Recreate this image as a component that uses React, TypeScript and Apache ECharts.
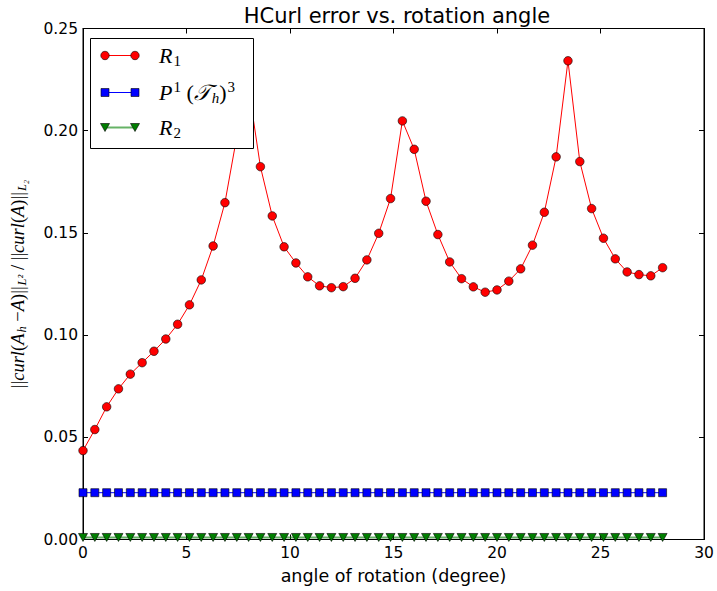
import React, { useEffect, useRef } from 'react';
import * as echarts from 'echarts';

const angles = [
  0, 0.571, 1.143, 1.714, 2.286, 2.857, 3.429, 4.0, 4.571, 5.143,
  5.714, 6.286, 6.857, 7.429, 8.0, 8.571, 9.143, 9.714, 10.286, 10.857,
  11.429, 12.0, 12.571, 13.143, 13.714, 14.286, 14.857, 15.429, 16.0, 16.571,
  17.143, 17.714, 18.286, 18.857, 19.429, 20.0, 20.571, 21.143, 21.714, 22.286,
  22.857, 23.429, 24.0, 24.571, 25.143, 25.714, 26.286, 26.857, 27.429, 28.0,
];

const r1Values = [
  0.0435, 0.0538, 0.0649, 0.0737, 0.0809, 0.0865, 0.0921, 0.0981, 0.1053, 0.1148,
  0.127, 0.1436, 0.1648, 0.197, 0.221, 0.1824, 0.1583, 0.1432, 0.1353, 0.1285,
  0.1241, 0.1232, 0.1237, 0.1278, 0.1368, 0.1498, 0.1668, 0.2048, 0.1909, 0.1655,
  0.1492, 0.1358, 0.1276, 0.1236, 0.121, 0.1221, 0.1264, 0.1324, 0.144, 0.1601,
  0.1872, 0.2342, 0.1849, 0.1619, 0.1474, 0.1373, 0.1309, 0.1296, 0.129, 0.133,
];

const p1Values = [
  0.0229, 0.0229, 0.0229, 0.0229, 0.0229, 0.0229, 0.0229, 0.0229, 0.0229, 0.0229,
  0.0229, 0.0229, 0.0229, 0.0229, 0.0229, 0.0229, 0.0229, 0.0229, 0.0229, 0.0229,
  0.0229, 0.0229, 0.0229, 0.0229, 0.0229, 0.0229, 0.0229, 0.0229, 0.0229, 0.0229,
  0.0229, 0.0229, 0.0229, 0.0229, 0.0229, 0.0229, 0.0229, 0.0229, 0.0229, 0.0229,
  0.0229, 0.0229, 0.0229, 0.0229, 0.0229, 0.0229, 0.0229, 0.0229, 0.0229, 0.0229,
];

const r2Values = [
  0.001, 0.001, 0.001, 0.001, 0.001, 0.001, 0.001, 0.001, 0.001, 0.001,
  0.001, 0.001, 0.001, 0.001, 0.001, 0.001, 0.001, 0.001, 0.001, 0.001,
  0.001, 0.001, 0.001, 0.001, 0.001, 0.001, 0.001, 0.001, 0.001, 0.001,
  0.001, 0.001, 0.001, 0.001, 0.001, 0.001, 0.001, 0.001, 0.001, 0.001,
  0.001, 0.001, 0.001, 0.001, 0.001, 0.001, 0.001, 0.001, 0.001, 0.001,
];

const xTickLabels = ['0', '5', '10', '15', '20', '25', '30'];
const yTickLabels = ['0.00', '0.05', '0.10', '0.15', '0.20', '0.25'];
const seriesNames = ['R1', 'P1 (Th)3', 'R2'];

const MATH = 'Liberation Serif';

export default function App() {
  const ref = useRef<HTMLDivElement>(null);

  useEffect(() => {
    const chart = echarts.init(ref.current!, null, { renderer: 'svg' });
    const pair = (xs: number[], ys: number[]) => xs.map((x, i) => [x, ys[i]]);

    const legendRich: any = {
      i: { fontFamily: MATH, fontStyle: 'italic', fontSize: 22, fill: '#000', color: '#000' },
      n: { fontFamily: MATH, fontSize: 22, fill: '#000', color: '#000' },
      sub: { fontFamily: MATH, fontSize: 15, padding: [10, 0, 0, 1], fill: '#000', color: '#000' },
      subi: { fontFamily: MATH, fontStyle: 'italic', fontSize: 15, padding: [10, 0, 0, 1], fill: '#000', color: '#000' },
      sup: { fontFamily: MATH, fontSize: 15, padding: [0, 0, 12, 1], fill: '#000', color: '#000' },
    };

    const axisRich: any = {
      i: { fontFamily: MATH, fontStyle: 'italic', fontSize: 18.5, color: '#000' },
      n: { fontFamily: MATH, fontSize: 18.5, color: '#000' },
      sub: { fontFamily: MATH, fontStyle: 'italic', fontSize: 12.5, padding: [8, 0, 0, 1], color: '#000' },
    };

    const rowY = [55.5, 92.5, 127.5];
    const mx = [105, 135];
    const legendChildren: any[] = [
      {
        type: 'rect', z2: 0,
        shape: { x: 90.5, y: 38.5, width: 163, height: 110 },
        style: { fill: '#fff', stroke: '#000', lineWidth: 1 },
      },
      { type: 'line', z2: 1, shape: { x1: mx[0], y1: rowY[0], x2: mx[1], y2: rowY[0] }, style: { stroke: '#ff0000', lineWidth: 1 } },
      ...mx.map((x) => ({ type: 'circle', z2: 2, shape: { cx: x, cy: rowY[0], r: 4.2 }, style: { fill: '#ff0000', stroke: '#000', lineWidth: 0.6 } })),
      { type: 'line', z2: 1, shape: { x1: mx[0], y1: rowY[1], x2: mx[1], y2: rowY[1] }, style: { stroke: '#0000ff', lineWidth: 1 } },
      ...mx.map((x) => ({ type: 'rect', z2: 2, shape: { x: x - 4, y: rowY[1] - 4, width: 8, height: 8 }, style: { fill: '#0000ff', stroke: '#000', lineWidth: 0.6 } })),
      { type: 'line', z2: 1, shape: { x1: mx[0], y1: rowY[2], x2: mx[1], y2: rowY[2] }, style: { stroke: 'rgba(0,128,0,0.6)', lineWidth: 2 } },
      ...mx.map((x) => ({ type: 'polygon', z2: 2, shape: { points: [[x - 4.5, rowY[2] - 4], [x + 4.5, rowY[2] - 4], [x, rowY[2] + 4]] }, style: { fill: '#007f00', stroke: '#000', lineWidth: 0.6 } })),
      {
        type: 'text', z2: 3, x: 159, y: rowY[0],
        style: { text: '{i|R}{sub|1}', rich: legendRich, verticalAlign: 'middle', align: 'left' },
      },
      {
        type: 'text', z2: 3, x: 159, y: rowY[1],
        style: { text: '{i|P}{sup|1}{n| (}{i|𝒯}{subi|h}{n|)}{sup|3}', rich: legendRich, verticalAlign: 'middle', align: 'left' },
      },
      {
        type: 'text', z2: 3, x: 159, y: rowY[2],
        style: { text: '{i|R}{sub|2}', rich: legendRich, verticalAlign: 'middle', align: 'left' },
      },
    ];

    const commonAxis = {
      axisLine: { show: true, onZero: false, lineStyle: { color: '#000', width: 1 } },
      axisTick: { show: true, inside: true, length: 5, lineStyle: { color: '#000', width: 1 } },
      splitLine: { show: false },
    };

    const option: any = {
      animation: false,
      backgroundColor: '#ffffff',
      textStyle: { fontFamily: 'DejaVu Sans' },
      title: {
        text: 'HCurl error vs. rotation angle',
        left: 392,
        top: 0,
        textAlign: 'center',
        textStyle: { fontFamily: 'DejaVu Sans', fontSize: 21, fontWeight: 'normal', color: '#000' },
      },
      grid: {
        left: 80, top: 28.5, right: 13, bottom: 51.5,
        show: true, borderColor: '#000', borderWidth: 1, backgroundColor: 'transparent',
      },
      xAxis: [
        {
          type: 'value', min: 0, max: 30, interval: 5, position: 'bottom',
          name: 'angle of rotation (degree)', nameLocation: 'middle', nameGap: 27,
          nameTextStyle: { fontFamily: 'DejaVu Sans', fontSize: 17.5, color: '#000' },
          axisLabel: {
            fontFamily: 'DejaVu Sans', fontSize: 15.5, color: '#000', margin: 5,
            formatter: (v: number, i: number) => xTickLabels[i] ?? String(v),
          },
          ...commonAxis,
        },
        {
          type: 'value', min: 0, max: 30, interval: 5, position: 'top',
          axisLabel: { show: false },
          ...commonAxis,
        },
      ],
      yAxis: [
        {
          type: 'value', min: 0, max: 0.25, interval: 0.05, position: 'left',
          name: '{n|||}{i|curl}{n|(}{i|A}{sub|h}{n| −}{i|A}{n|)||}{sub|L²}{n| / ||}{i|curl}{n|(}{i|A}{n|)||}{sub|L₂}',
          nameLocation: 'middle', nameGap: 55, nameRotate: 90,
          nameTextStyle: { color: '#000', rich: axisRich },
          axisLabel: {
            fontFamily: 'DejaVu Sans', fontSize: 15.5, color: '#000', margin: 5,
            formatter: (v: number, i: number) => yTickLabels[i] ?? v.toFixed(2),
          },
          ...commonAxis,
        },
        {
          type: 'value', min: 0, max: 0.25, interval: 0.05, position: 'right',
          axisLabel: { show: false },
          ...commonAxis,
        },
      ],
      series: [
        {
          name: seriesNames[0], type: 'line', data: pair(angles, r1Values),
          symbol: 'circle', symbolSize: 8.5, clip: false, z: 2,
          lineStyle: { color: '#ff0000', width: 1 },
          itemStyle: { color: '#ff0000', borderColor: '#000', borderWidth: 0.6 },
          emphasis: { disabled: true },
        },
        {
          name: seriesNames[1], type: 'line', data: pair(angles, p1Values),
          symbol: 'rect', symbolSize: 8, clip: false, z: 2,
          lineStyle: { color: '#0000ff', width: 1 },
          itemStyle: { color: '#0000ff', borderColor: '#000', borderWidth: 0.6 },
          emphasis: { disabled: true },
        },
        {
          name: seriesNames[2], type: 'line', data: pair(angles, r2Values),
          symbol: 'triangle', symbolRotate: 180, symbolSize: [9, 8], clip: false, z: 2,
          lineStyle: { color: 'rgba(0,128,0,0.6)', width: 2 },
          itemStyle: { color: '#007f00', borderColor: '#000', borderWidth: 0.6 },
          emphasis: { disabled: true },
        },
        {
          name: 'legend', type: 'custom', coordinateSystem: 'none', z: 50, silent: true,
          data: [[0]],
          renderItem: () => ({ type: 'group', children: legendChildren }),
        },
      ],
    };

    chart.setOption(option);
    return () => chart.dispose();
  }, []);

  return (
    <div
      ref={ref}
      style={{ position: 'fixed', left: 0, top: 0, width: 717, height: 591, background: '#fff' }}
    />
  );
}
